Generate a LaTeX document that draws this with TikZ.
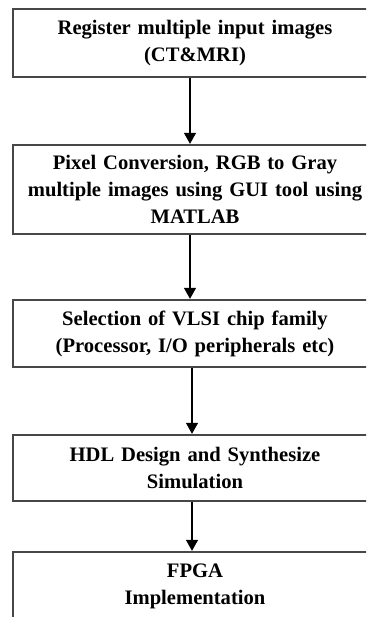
\documentclass[tikz,border=0pt]{standalone}
\usepackage{fontspec}
\setmainfont{Liberation Serif}
\usetikzlibrary{arrows.meta}
\tikzset{
  stagebox/.style={draw=black!72, line width=1.3pt, fill=white,
    minimum width=364pt, text width=350pt, align=center,
    inner sep=0pt, font=\fontsize{20.6}{27}\selectfont\bfseries},
  flowarrow/.style={draw=black, line width=1.1pt,
    -{Triangle[width=12pt,length=11pt]}, shorten >=0.5pt}
}
\begin{document}
\begin{tikzpicture}[x=1pt,y=1pt]
  \useasboundingbox (0,0) rectangle (366,-617);
  \clip (0,0) rectangle (366,-617);
  \fill[white] (0,0) rectangle (366,-617);

  % processing stages, top to bottom
  \node[stagebox, minimum height=68pt] (reg) at (195,-43)
    {Register multiple input images\\(CT\&MRI)};
  \node[stagebox, minimum height=89pt] (conv) at (195,-189.5)
    {Pixel Conversion, RGB to Gray\\multiple images using GUI tool using\\MATLAB};
  \node[stagebox, minimum height=67pt] (vlsi) at (195,-333.5)
    {Selection of VLSI chip family\\(Processor, I/O peripherals etc)};
  \node[stagebox, minimum height=66pt] (hdl) at (195,-468)
    {HDL Design and Synthesize\\Simulation};
  \node[stagebox, minimum height=68pt] (fpga) at (195,-586)
    {FPGA\\Implementation};

  % connectors between the stages
  \draw[flowarrow] ([xshift=-5pt]reg.south)  -- ([xshift=-5pt]conv.north);
  \draw[flowarrow] ([xshift=-5pt]conv.south) -- ([xshift=-5pt]vlsi.north);
  \draw[flowarrow] ([xshift=-3pt]vlsi.south) -- ([xshift=-3pt]hdl.north);
  \draw[flowarrow] ([xshift=-3pt]hdl.south)  -- ([xshift=-3pt]fpga.north);
\end{tikzpicture}
\end{document}
